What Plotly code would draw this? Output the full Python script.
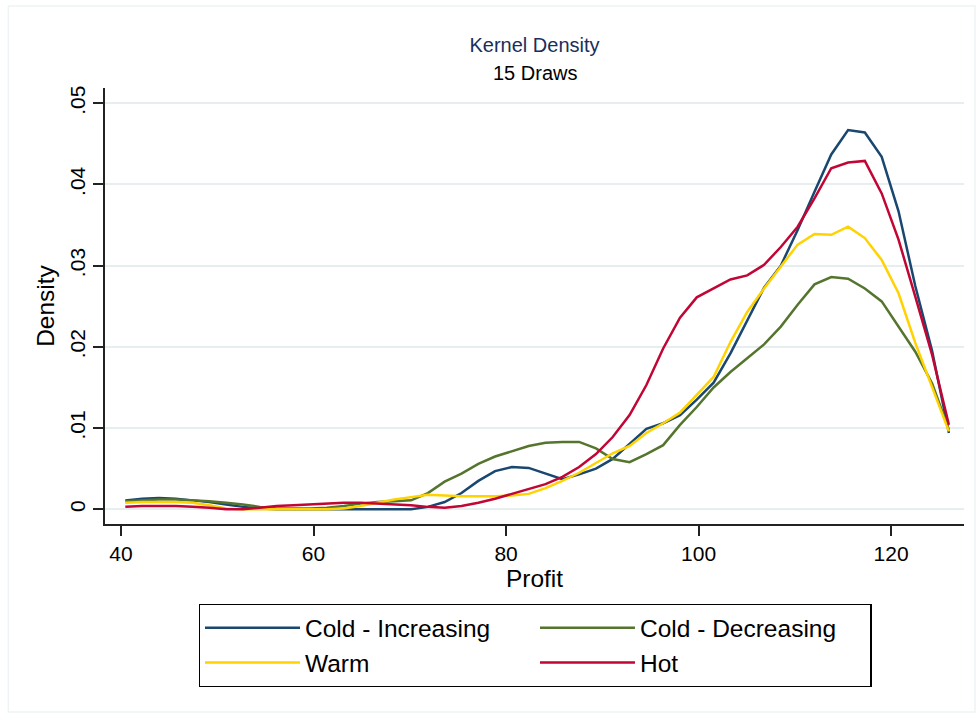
import plotly.graph_objects as go

# Evaluation grid (Profit) - 50 kernel density evaluation points
profit = [40.45, 42.20, 43.94, 45.69, 47.43, 49.18, 50.93, 52.67, 54.42, 56.16,
          57.91, 59.66, 61.40, 63.15, 64.89, 66.64, 68.39, 70.13, 71.88, 73.62,
          75.37, 77.12, 78.86, 80.61, 82.35, 84.10, 85.85, 87.59, 89.34, 91.08,
          92.83, 94.58, 96.32, 98.07, 99.81, 101.56, 103.31, 105.05, 106.80, 108.54,
          110.29, 112.04, 113.78, 115.53, 117.27, 119.02, 120.77, 122.51, 124.26, 126.00]

cold_increasing = [0.0011, 0.0013, 0.0014, 0.0013, 0.0011, 0.0009, 0.0006, 0.0003, 0.0001, 0.0000,
                   0.0000, 0.0000, 0.0000, 0.0000, 0.0000, 0.0000, 0.0000, 0.0000, 0.0003, 0.0009,
                   0.0020, 0.0035, 0.0047, 0.0052, 0.0051, 0.0044, 0.0037, 0.0043, 0.0050, 0.0062,
                   0.0081, 0.0099, 0.0106, 0.0116, 0.0135, 0.0156, 0.0192, 0.0233, 0.0273, 0.0300,
                   0.0344, 0.0391, 0.0437, 0.0467, 0.0464, 0.0434, 0.0367, 0.0275, 0.0195, 0.0094]

cold_decreasing = [0.0010, 0.0011, 0.0012, 0.0012, 0.0011, 0.0010, 0.0008, 0.0006, 0.0003, 0.0001,
                   0.0001, 0.0001, 0.0002, 0.0004, 0.0007, 0.0009, 0.0010, 0.0011, 0.0020, 0.0034,
                   0.0044, 0.0056, 0.0065, 0.0072, 0.0078, 0.0082, 0.0083, 0.0083, 0.0075, 0.0062,
                   0.0058, 0.0068, 0.0079, 0.0104, 0.0126, 0.0150, 0.0169, 0.0186, 0.0203, 0.0225,
                   0.0252, 0.0277, 0.0286, 0.0284, 0.0272, 0.0256, 0.0225, 0.0194, 0.0155, 0.0098]

warm = [0.0008, 0.0009, 0.0009, 0.0009, 0.0008, 0.0005, 0.0001, 0.0000, 0.0000, 0.0000,
        0.0000, 0.0000, 0.0000, 0.0001, 0.0004, 0.0008, 0.0012, 0.0015, 0.0018, 0.0017,
        0.0016, 0.0016, 0.0016, 0.0017, 0.0019, 0.0026, 0.0035, 0.0045, 0.0057, 0.0069,
        0.0078, 0.0094, 0.0106, 0.0119, 0.0141, 0.0163, 0.0206, 0.0243, 0.0272, 0.0299,
        0.0326, 0.0339, 0.0338, 0.0348, 0.0334, 0.0307, 0.0266, 0.0205, 0.0150, 0.0096]

hot = [0.0003, 0.0004, 0.0004, 0.0004, 0.0003, 0.0002, 0.0000, 0.0000, 0.0002, 0.0004,
       0.0005, 0.0006, 0.0007, 0.0008, 0.0008, 0.0007, 0.0006, 0.0005, 0.0003, 0.0002,
       0.0004, 0.0008, 0.0013, 0.0019, 0.0025, 0.0031, 0.0040, 0.0052, 0.0068, 0.0089,
       0.0116, 0.0153, 0.0198, 0.0236, 0.0261, 0.0272, 0.0283, 0.0288, 0.0301, 0.0323,
       0.0348, 0.0383, 0.0420, 0.0427, 0.0429, 0.0389, 0.0332, 0.0262, 0.0190, 0.0104]

series_names = ["Cold - Increasing", "Cold - Decreasing", "Warm", "Hot"]
series_values = [cold_increasing, cold_decreasing, warm, hot]
series_colors = ["#1a476f", "#55752f", "#ffd200", "#c10534"]

x_ticks = [40, 60, 80, 100, 120]
y_ticks = [0, 0.01, 0.02, 0.03, 0.04, 0.05]
y_tick_labels = ["0", ".01", ".02", ".03", ".04", ".05"]

FONT = "Liberation Sans, Arial, sans-serif"

fig = go.Figure()
for name, vals, col in zip(series_names, series_values, series_colors):
    fig.add_trace(go.Scatter(x=profit, y=vals, mode="lines", name=name,
                             line=dict(color=col, width=2.5)))

fig.update_layout(
    width=979, height=715,
    margin=dict(l=105, r=15, t=88, b=191),
    paper_bgcolor="white", plot_bgcolor="white",
    font=dict(family=FONT, color="black"),
    title=dict(text="Kernel Density", x=0.5, xref="paper", xanchor="center",
               y=1 - 45 / 715, yref="container", yanchor="middle",
               font=dict(size=20, color="#1a2e5a", family=FONT)),
    showlegend=True,
    legend=dict(orientation="h", x=0.5008, xanchor="center", y=-0.1835, yanchor="top",
                bordercolor="black", borderwidth=1.3, bgcolor="white",
                font=dict(size=24.5, family=FONT, color="black"),
                entrywidth=225, entrywidthmode="pixels",
                itemwidth=95, traceorder="normal"),
)

fig.add_annotation(text="15 Draws", xref="paper", yref="paper", x=0.5, y=(524 - 73) / 436,
                   xanchor="center", yanchor="middle", showarrow=False,
                   font=dict(size=20, color="black", family=FONT))

fig.update_xaxes(range=[38.34, 127.57], tickvals=x_ticks, ticks="outside", ticklen=10,
                 tickwidth=1.5, tickcolor="#222", showline=True, linecolor="#222", linewidth=1.8,
                 showgrid=False, zeroline=False, tickfont=dict(size=21, family=FONT),
                 title=dict(text="Profit", font=dict(size=24.5, family=FONT), standoff=4))
fig.update_yaxes(range=[-0.00181, 0.05188], tickvals=y_ticks, ticktext=y_tick_labels,
                 ticks="outside", ticklen=10, tickwidth=1.5, tickcolor="#222",
                 showline=True, linecolor="#222", linewidth=1.8,
                 showgrid=True, gridcolor="#e6eef0", gridwidth=2, zeroline=False,
                 tickangle=-90, tickfont=dict(size=21, family=FONT),
                 title=dict(text="Density", font=dict(size=24.5, family=FONT), standoff=4))

# faint outer graph-region frame
fig.add_shape(type="rect", xref="paper", yref="paper",
              x0=(8 - 104.7) / 859.3, x1=(975 - 104.7) / 859.3,
              y0=(524 - 712) / 436, y1=(524 - 6) / 436,
              line=dict(color="#eef3f5", width=1.5), layer="below")

fig.write_html("out.html")
